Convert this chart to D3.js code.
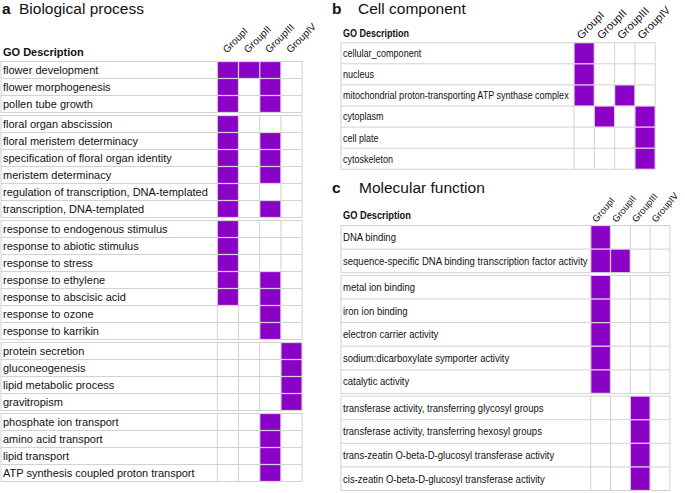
<!DOCTYPE html>
<html><head><meta charset="utf-8">
<script src="https://cdn.jsdelivr.net/npm/d3@7"></script>
<style>
body{margin:0;background:#fff}
svg{display:block}
text{font-family:"Liberation Sans",Arial,Helvetica,sans-serif;fill:#111}
</style>
</head><body>
<svg id="chart" width="685" height="493"></svg>
<script>
// ---------- data ----------
const groups = ["GroupI", "GroupII", "GroupIII", "GroupIV"];

const bpTerms = [
  "flower development", "flower morphogenesis", "pollen tube growth",
  "floral organ abscission", "floral meristem determinacy", "specification of floral organ identity",
  "meristem determinacy", "regulation of transcription, DNA-templated", "transcription, DNA-templated",
  "response to endogenous stimulus", "response to abiotic stimulus", "response to stress",
  "response to ethylene", "response to abscisic acid", "response to ozone", "response to karrikin",
  "protein secretion", "gluconeogenesis", "lipid metabolic process", "gravitropism",
  "phosphate ion transport", "amino acid transport", "lipid transport", "ATP synthesis coupled proton transport"
];
const bpBlocks = [3, 6, 7, 4, 4];
const bpHits = [
  [1,1,1,0],[1,0,1,0],[1,0,1,0],
  [1,0,0,0],[1,0,1,0],[1,0,1,0],[1,0,1,0],[1,0,0,0],[1,0,1,0],
  [1,0,0,0],[1,0,0,0],[1,0,0,0],[1,0,1,0],[1,0,1,0],[0,0,1,0],[0,0,1,0],
  [0,0,0,1],[0,0,0,1],[0,0,0,1],[0,0,0,1],
  [0,0,1,0],[0,0,1,0],[0,0,1,0],[0,0,1,0]
];

const ccTerms = [
  "cellular_component", "nucleus", "mitochondrial proton-transporting ATP synthase complex",
  "cytoplasm", "cell plate", "cytoskeleton"
];
const ccBlocks = [6];
const ccHits = [
  [1,0,0,0],[1,0,0,0],[1,0,1,0],[0,1,0,1],[0,0,0,1],[0,0,0,1]
];

const mfTerms = [
  "DNA binding", "sequence-specific DNA binding transcription factor activity",
  "metal ion binding", "iron ion binding", "electron carrier activity",
  "sodium:dicarboxylate symporter activity", "catalytic activity",
  "transferase activity, transferring glycosyl groups", "transferase activity, transferring hexosyl groups",
  "trans-zeatin O-beta-D-glucosyl transferase activity", "cis-zeatin O-beta-D-glucosyl transferase activity"
];
const mfBlocks = [2, 5, 4];
const mfHits = [
  [1,0,0,0],[1,1,0,0],
  [1,0,0,0],[1,0,0,0],[1,0,0,0],[1,0,0,0],[1,0,0,0],
  [0,0,1,0],[0,0,1,0],[0,0,1,0],[0,0,1,0]
];

// ---------- drawing ----------
const svg = d3.select("#chart");
const PURPLE = "#8a02c6";
const GRID = "#d2d2d2";

function fitX(sel, x, y, target) {
  const w = sel.node().getComputedTextLength();
  const s = target ? target / w : 1;
  sel.attr("transform", `translate(${x},${y}) scale(${s},1)`);
}

function drawPanel(cfg, terms, blocks, hits) {
  const g = svg.append("g");
  g.append("text").attr("x", cfg.letterX).attr("y", cfg.titleY)
    .style("font-size", cfg.titleSize + "px").style("font-weight", "bold").text(cfg.letter);
  g.append("text").attr("x", cfg.titleX).attr("y", cfg.titleY)
    .style("font-size", cfg.titleSize + "px").text(cfg.title);
  const gd = g.append("text").style("font-size", cfg.headSize + "px").style("font-weight", "bold")
    .text("GO Description");
  fitX(gd, cfg.left + 2, cfg.headY, cfg.headW);

  const x = d3.scaleBand().domain(groups).range([cfg.gridX0, cfg.gridX0 + cfg.colW * groups.length]);
  const right = x.range()[1];

  let start = 0, top = cfg.top;
  const rowY = [];
  const blockInfo = [];
  blocks.forEach(n => {
    const idx = d3.range(start, start + n);
    const y = d3.scaleBand().domain(idx).range([top, top + n * cfg.rowH]);
    idx.forEach(i => rowY[i] = y(i));
    blockInfo.push({idx, y, top, bottom: top + n * cfg.rowH});
    top += n * cfg.rowH + cfg.gap;
    start += n;
  });
  const rowH = cfg.rowH;

  blockInfo.forEach(b => {
    const bg = g.append("g");
    bg.append("rect").attr("x", cfg.left).attr("y", b.top)
      .attr("width", right - cfg.left).attr("height", b.bottom - b.top)
      .attr("fill", "#fff").attr("stroke", GRID).attr("stroke-width", 1);
    bg.selectAll("line.h").data(b.idx.slice(1)).join("line")
      .attr("x1", cfg.left).attr("x2", right)
      .attr("y1", i => b.y(i)).attr("y2", i => b.y(i))
      .attr("stroke", GRID);
    bg.selectAll("line.v").data(groups).join("line")
      .attr("x1", d => x(d)).attr("x2", d => x(d))
      .attr("y1", b.top).attr("y2", b.bottom)
      .attr("stroke", GRID);
  });

  const cells = [];
  hits.forEach((row, i) => row.forEach((v, j) => { if (v) cells.push({i, j}); }));
  g.selectAll("rect.cell").data(cells).join("rect")
    .attr("x", d => x(groups[d.j]) + 0.6)
    .attr("y", d => rowY[d.i] + 0.6)
    .attr("width", x.bandwidth() - 1.2)
    .attr("height", rowH - 1.2)
    .attr("fill", PURPLE);

  const lab = g.selectAll("text.lab").data(terms).join("text")
    .style("font-size", cfg.fontSize + "px").text(d => d);
  let s = 1;
  if (cfg.longW) {
    const maxW = d3.max(lab.nodes(), n => n.getComputedTextLength());
    s = cfg.longW / maxW;
  }
  lab.attr("transform", (d, i) =>
    `translate(${cfg.left + 2},${rowY[i] + rowH / 2 + cfg.fontSize * 0.35}) scale(${s},1)`);

  g.selectAll("text.col").data(groups).join("text")
    .style("font-size", cfg.colSize + "px")
    .attr("transform", d => `translate(${x(d) + x.bandwidth() / 2 + cfg.colDx},${cfg.top - cfg.colDy}) rotate(${cfg.colAngle})`)
    .text(d => d);
}

drawPanel({
  letter: "a", title: "Biological process", letterX: 2, titleX: 19, titleY: 14, titleSize: 15.5,
  headSize: 11, headY: 56, headW: null,
  left: 1, top: 61.5, gridX0: 217.3, colW: 21.2, rowH: 17, gap: 3,
  fontSize: 11, longW: null,
  colSize: 10, colDx: -1, colDy: 8, colAngle: -45
}, bpTerms, bpBlocks, bpHits);

drawPanel({
  letter: "b", title: "Cell component", letterX: 332, titleX: 358, titleY: 14, titleSize: 15.5,
  headSize: 10.5, headY: 37, headW: 66,
  left: 341, top: 42.7, gridX0: 574, colW: 20.3, rowH: 21.1, gap: 0,
  fontSize: 11, longW: 226,
  colSize: 11, colDx: -3, colDy: 3, colAngle: -45
}, ccTerms, ccBlocks, ccHits);

drawPanel({
  letter: "c", title: "Molecular function", letterX: 332, titleX: 359, titleY: 193, titleSize: 15.5,
  headSize: 11, headY: 218.5, headW: 68,
  left: 341, top: 225.5, gridX0: 590.7, colW: 19.8, rowH: 23.6, gap: 2.7,
  fontSize: 11, longW: 245,
  colSize: 9.5, colDx: -4, colDy: 2.5, colAngle: -50
}, mfTerms, mfBlocks, mfHits);
</script>
</body></html>
